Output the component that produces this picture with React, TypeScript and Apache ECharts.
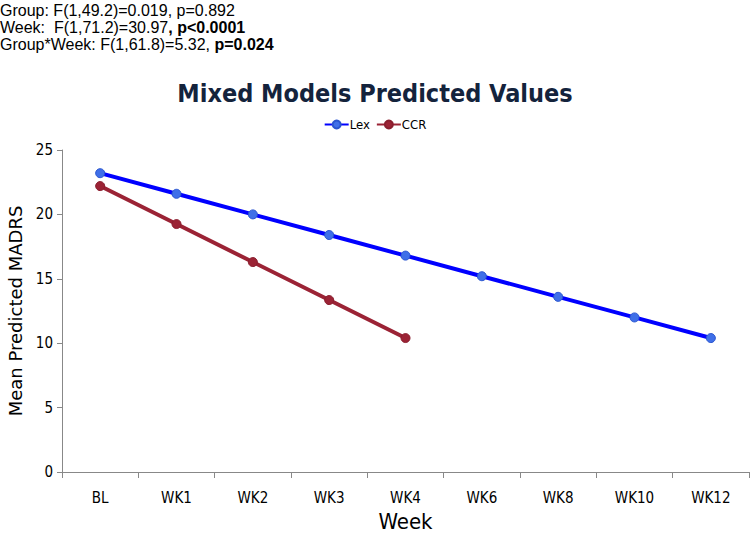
import React, { useEffect, useRef } from "react";
import * as echarts from "echarts";

const categories = ["BL", "WK1", "WK2", "WK3", "WK4", "WK6", "WK8", "WK10", "WK12"];
const lexValues = [23.2, 21.6, 20.0, 18.4, 16.8, 15.2, 13.6, 12.0, 10.4];
const ccrValues = [22.2, 19.25, 16.3, 13.35, 10.4];
const yTicks = [0, 5, 10, 15, 20, 25];
const statsLines = [
  ["Group: F(1,49.2)=0.019, p=0.892", ""],
  ["Week:  F(1,71.2)=30.97", ", p<0.0001"],
  ["Group*Week: F(1,61.8)=5.32, ", "p=0.024"],
];

export default function App() {
  const ref = useRef<HTMLDivElement>(null);
  useEffect(() => {
    if (!ref.current) return;
    const chart = echarts.init(ref.current, null, { renderer: "svg" });
    const statsText = statsLines
      .map(([a, b]) => `{n|${a}}` + (b ? `{b|${b}}` : ""))
      .join("\n");
    chart.setOption({
      animation: false,
      backgroundColor: "#ffffff",
      title: [
        {
          text: statsText,
          left: 0,
          top: 2,
          padding: 0,
          textStyle: {
            fontWeight: "normal",
            rich: {
              n: { fontFamily: "Liberation Sans", fontSize: 16, color: "#000", fontWeight: "normal", lineHeight: 17 },
              b: { fontFamily: "Liberation Sans", fontSize: 16, color: "#000", fontWeight: "bold", lineHeight: 17 },
            },
          },
        },
        {
          text: "Mixed Models Predicted Values",
          left: "center",
          top: 76,
          textStyle: {
            fontFamily: "DejaVu Sans Condensed",
            fontWeight: "bold",
            fontSize: 25,
            color: "#14233c",
          },
        },
      ],
      legend: {
        top: 113,
        left: "center",
        itemGap: 6,
        itemWidth: 24,
        itemHeight: 10,
        textStyle: { fontFamily: "DejaVu Sans Condensed", fontSize: 13, color: "#000", padding: [0, 0, 0, -4] },
        data: ["Lex", "CCR"],
      },
      grid: { left: 62, right: 1, top: 150, bottom: 63, outerBoundsMode: "none", containLabel: false },
      xAxis: {
        type: "category",
        data: categories,
        boundaryGap: true,
        name: "Week",
        nameLocation: "middle",
        nameGap: 38,
        nameTextStyle: { fontFamily: "DejaVu Sans Condensed", fontSize: 22, color: "#000" },
        axisLine: { lineStyle: { color: "#888", width: 1 } },
        axisTick: { show: true, alignWithLabel: false, length: 6, lineStyle: { color: "#888" } },
        axisLabel: { fontFamily: "DejaVu Sans Condensed", fontSize: 15, color: "#000", margin: 18 },
      },
      yAxis: {
        type: "value",
        min: 0,
        max: 25,
        interval: 5,
        name: "Mean Predicted MADRS",
        nameLocation: "middle",
        nameGap: 35,
        nameTextStyle: { fontFamily: "DejaVu Sans", fontSize: 18, color: "#000" },
        axisLine: { show: true, lineStyle: { color: "#888", width: 1 } },
        axisTick: { show: true, length: 5, lineStyle: { color: "#888" } },
        splitLine: { show: false },
        axisLabel: {
          fontFamily: "DejaVu Sans Condensed",
          fontSize: 15,
          color: "#000",
          margin: 9,
          formatter: (v: number) => (yTicks.includes(v) ? String(v) : ""),
        },
      },
      series: [
        {
          name: "Lex",
          type: "line",
          data: lexValues,
          symbol: "circle",
          symbolSize: 9,
          lineStyle: { color: "#0000ff", width: 4 },
          itemStyle: { color: "#3f6fe8", borderColor: "#2a55d0", borderWidth: 1 },
          z: 3,
        },
        {
          name: "CCR",
          type: "line",
          data: ccrValues,
          symbol: "circle",
          symbolSize: 9,
          lineStyle: { color: "#9b2335", width: 4 },
          itemStyle: { color: "#9b2335", borderColor: "#8a1e2e", borderWidth: 1 },
          z: 2,
        },
      ],
    });
    return () => chart.dispose();
  }, []);
  return <div ref={ref} style={{ width: 750, height: 535, position: "absolute", left: 0, top: 0 }} />;
}
